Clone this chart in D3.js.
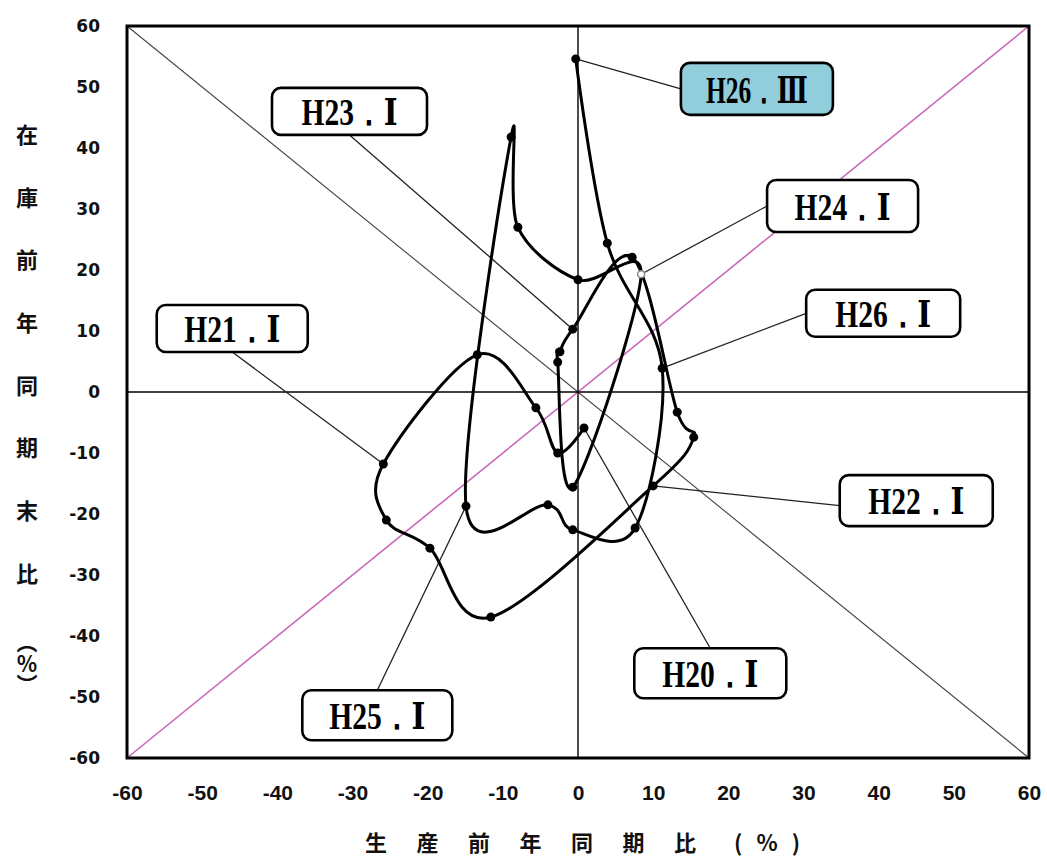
<!DOCTYPE html>
<html>
<head>
<meta charset="utf-8">
<script src="https://cdn.jsdelivr.net/npm/d3@7"></script>
<style>
  body { margin: 0; background: #fff; }
</style>
</head>
<body>
<svg id="chart" width="1047" height="857"></svg>
<script>
// quarters H20.I .. H26.III
const quarters = ["H20.Ⅰ","H20.Ⅱ","H20.Ⅲ","H20.Ⅳ","H21.Ⅰ","H21.Ⅱ","H21.Ⅲ","H21.Ⅳ",
                  "H22.Ⅰ","H22.Ⅱ","H22.Ⅲ","H22.Ⅳ","H23.Ⅰ","H23.Ⅱ","H23.Ⅲ","H23.Ⅳ",
                  "H24.Ⅰ","H24.Ⅱ","H24.Ⅲ","H24.Ⅳ","H25.Ⅰ","H25.Ⅱ","H25.Ⅲ","H25.Ⅳ",
                  "H26.Ⅰ","H26.Ⅱ","H26.Ⅲ"];
// 生産前年同期比 (%)
const production = [0.8, -2.7, -5.6, -13.4, -25.9, -25.5, -19.7, -11.6,
                    10.0, 15.4, 13.2, 7.2, -0.7, -2.4, -2.7, -0.7,
                    8.4, 0.0, -8.0, -8.9, -14.9, -4.0, -0.7, 7.6,
                    11.2, 3.9, -0.3];
// 在庫前年同期末比 (%)
const inventory = [-5.9, -10.0, -2.6, 6.1, -11.8, -21.0, -25.6, -36.9,
                   -15.4, -7.4, -3.3, 22.1, 10.3, 6.6, 4.9, -15.6,
                   19.3, 18.4, 27.0, 41.8, -18.7, -18.5, -22.6, -22.3,
                   3.9, 24.4, 54.6];

const xTickLabels = [-60, -50, -40, -30, -20, -10, 0, 10, 20, 30, 40, 50, 60];
const yTickLabels = [-60, -50, -40, -30, -20, -10, 0, 10, 20, 30, 40, 50, 60];

// labelled quarters
const callouts = ["H20.Ⅰ", "H21.Ⅰ", "H22.Ⅰ", "H23.Ⅰ", "H24.Ⅰ", "H25.Ⅰ", "H26.Ⅰ", "H26.Ⅲ"];

// callout box layout: centre in axis units, size in px, leader anchor on box (fraction)
const calloutLayout = {
  "H20.Ⅰ": {cx: 17.6, cy: -46.1, w: 152, h: 50, ax: 0.5, ay: 0},
  "H21.Ⅰ": {cx: -46.0, cy: 10.4, w: 151, h: 47, ax: 0.5, ay: 1},
  "H22.Ⅰ": {cx: 45.0, cy: -17.8, w: 153, h: 51, ax: 0, ay: 0.6},
  "H23.Ⅰ": {cx: -30.4, cy: 46.0, w: 155, h: 47, ax: 0.5, ay: 1},
  "H24.Ⅰ": {cx: 35.2, cy: 30.5, w: 151, h: 52, ax: 0, ay: 0.5},
  "H25.Ⅰ": {cx: -26.7, cy: -53.0, w: 150, h: 50, ax: 0.5, ay: 0},
  "H26.Ⅰ": {cx: 40.6, cy: 12.9, w: 154, h: 47, ax: 0, ay: 0.5},
  "H26.Ⅲ": {cx: 23.8, cy: 49.7, w: 152, h: 52, ax: 0, ay: 0.5, fill: "#92cddc"}
};

const svg = d3.select("#chart");
const plot = {left: 127, right: 1029, top: 26, bottom: 758};

const x = d3.scaleLinear().domain([-60, 60]).range([plot.left, plot.right]);
const y = d3.scaleLinear().domain([-60, 60]).range([plot.bottom, plot.top]);

const points = quarters.map((q, i) => ({q: q, px: production[i], inv: inventory[i]}));

// diagonal reference lines
svg.append("line")
  .attr("x1", x(-60)).attr("y1", y(60))
  .attr("x2", x(60)).attr("y2", y(-60))
  .attr("stroke", "#444").attr("stroke-width", 1.1);

svg.append("line")
  .attr("x1", x(-60)).attr("y1", y(-60))
  .attr("x2", x(60)).attr("y2", y(60))
  .attr("stroke", "#cc66bb").attr("stroke-width", 1.6);

// zero lines
svg.append("line")
  .attr("x1", x(0)).attr("y1", y(60)).attr("x2", x(0)).attr("y2", y(-60))
  .attr("stroke", "#000").attr("stroke-width", 1.4);
svg.append("line")
  .attr("x1", x(-60)).attr("y1", y(0)).attr("x2", x(60)).attr("y2", y(0))
  .attr("stroke", "#000").attr("stroke-width", 1.4);

// leader lines
callouts.forEach(name => {
  const L = calloutLayout[name];
  const p = points[quarters.indexOf(name)];
  const bx = x(L.cx) - L.w / 2 + L.ax * L.w;
  const by = y(L.cy) - L.h / 2 + L.ay * L.h;
  svg.append("line")
    .attr("x1", x(p.px)).attr("y1", y(p.inv))
    .attr("x2", bx).attr("y2", by)
    .attr("stroke", "#222").attr("stroke-width", 1.3);
});

// trajectory
const line = d3.line()
  .x(d => x(d.px))
  .y(d => y(d.inv))
  .curve(d3.curveCardinal.tension(0));

svg.append("path")
  .datum(points)
  .attr("d", line)
  .attr("fill", "none")
  .attr("stroke", "#000")
  .attr("stroke-width", 3);

svg.selectAll("circle.pt")
  .data(points)
  .enter().append("circle")
  .attr("class", "pt")
  .attr("cx", d => x(d.px))
  .attr("cy", d => y(d.inv))
  .attr("r", d => d.q === "H24.Ⅰ" ? 3.5 : 4.5)
  .attr("fill", d => d.q === "H24.Ⅰ" ? "#fff" : "#000")
  .attr("stroke", d => d.q === "H24.Ⅰ" ? "#888" : "none")
  .attr("stroke-width", 1.5);

// frame
svg.append("rect")
  .attr("x", plot.left).attr("y", plot.top)
  .attr("width", plot.right - plot.left).attr("height", plot.bottom - plot.top)
  .attr("fill", "none").attr("stroke", "#000").attr("stroke-width", 3);

// axes (plain hyphen minus like the original)
const fmt = d => String(d);

const xAxis = svg.append("g")
  .attr("transform", "translate(0," + plot.bottom + ")")
  .call(d3.axisBottom(x).tickValues(xTickLabels).tickFormat(fmt).tickSize(0).tickPadding(27));
xAxis.select(".domain").remove();
xAxis.selectAll("text")
  .attr("font-family", "'Liberation Sans Narrow', 'Liberation Sans', sans-serif")
  .attr("font-weight", "bold")
  .attr("font-size", 21)
  .attr("fill", "#111");

const yAxis = svg.append("g")
  .attr("transform", "translate(" + plot.left + ",0)")
  .call(d3.axisLeft(y).tickValues(yTickLabels).tickFormat(fmt).tickSize(0).tickPadding(27));
yAxis.select(".domain").remove();
yAxis.selectAll("text")
  .attr("font-family", "'DejaVu Sans', Verdana, sans-serif")
  .attr("font-weight", "bold")
  .attr("font-size", 17)
  .attr("fill", "#111");

// callout boxes
callouts.forEach(name => {
  const L = calloutLayout[name];
  const g = svg.append("g")
    .attr("transform", "translate(" + x(L.cx) + "," + y(L.cy) + ")");
  g.append("rect")
    .attr("x", -L.w / 2).attr("y", -L.h / 2)
    .attr("width", L.w).attr("height", L.h)
    .attr("rx", 9).attr("ry", 9)
    .attr("fill", L.fill || "#fff")
    .attr("stroke", "#000").attr("stroke-width", 2.6);
  g.append("text")
    .attr("text-anchor", "middle")
    .attr("dy", "0.36em")
    .attr("font-family", "'Liberation Serif', 'DejaVu Serif', serif")
    .attr("font-weight", "bold")
    .attr("font-size", 38)
    .attr("textLength", name.endsWith("Ⅲ") ? 102 : 96)
    .attr("lengthAdjust", "spacingAndGlyphs")
    .text(name.replace(".", "．"));
});

// y axis title (vertical)
const yTitle = ["在", "庫", "前", "年", "同", "期", "末", "比"];
yTitle.forEach((c, i) => {
  svg.append("text")
    .attr("x", 27).attr("y", 135 + i * 62.7)
    .attr("dy", "0.36em")
    .attr("text-anchor", "middle")
    .attr("font-family", "'Noto Sans CJK JP', sans-serif")
    .attr("font-weight", "bold")
    .attr("font-size", 22)
    .attr("fill", "#111")
    .text(c);
});
svg.append("text")
  .attr("x", 27).attr("y", 663)
  .attr("writing-mode", "vertical-rl")
  .style("text-orientation", "upright")
  .attr("text-anchor", "middle")
  .attr("font-family", "'Noto Sans CJK JP', sans-serif")
  .attr("font-weight", "bold")
  .attr("font-size", 21)
  .attr("fill", "#111")
  .text("（％）");

// x axis title
const xTitle = ["生", "産", "前", "年", "同", "期", "比"];
xTitle.forEach((c, i) => {
  svg.append("text")
    .attr("x", 376 + i * 51.5).attr("y", 843)
    .attr("dy", "0.36em")
    .attr("text-anchor", "middle")
    .attr("font-family", "'Noto Sans CJK JP', sans-serif")
    .attr("font-weight", "bold")
    .attr("font-size", 22)
    .attr("fill", "#111")
    .text(c);
});
svg.append("text")
  .attr("x", 767).attr("y", 843)
  .attr("dy", "0.36em")
  .attr("text-anchor", "middle")
  .attr("font-family", "'Noto Sans CJK JP', sans-serif")
  .attr("font-weight", "bold")
  .attr("font-size", 22)
  .attr("textLength", 66)
  .attr("lengthAdjust", "spacing")
  .attr("fill", "#111")
  .text("(%)");
</script>
</body>
</html>
